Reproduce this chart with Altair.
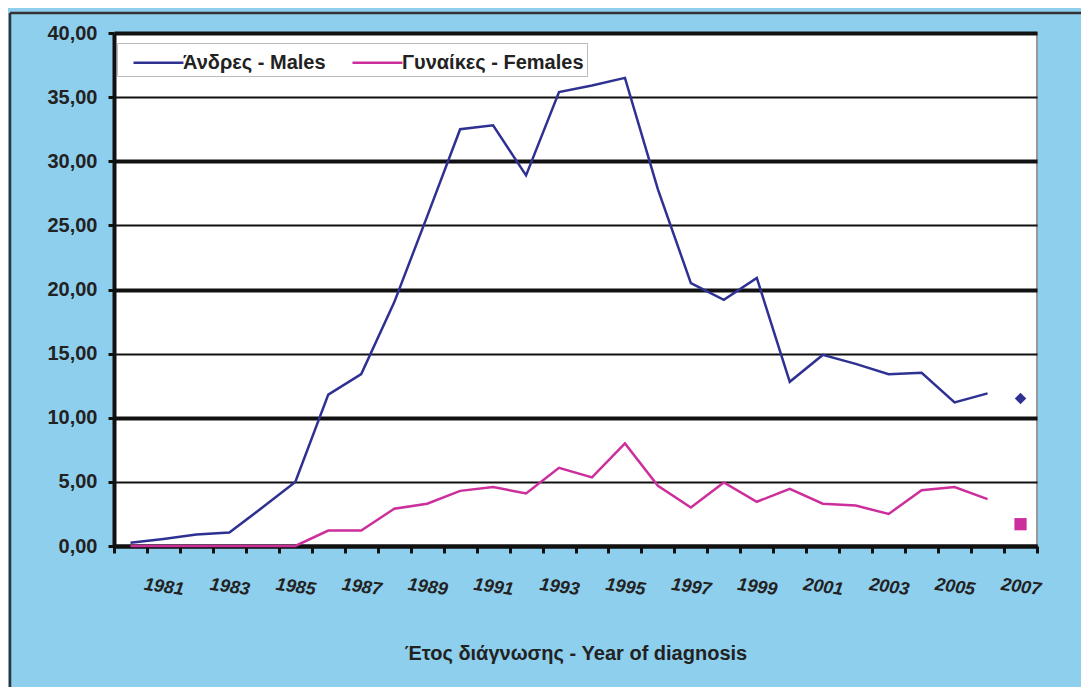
import altair as alt
import pandas as pd

# ---- data ----
years = list(range(1980, 2008))
line_years = list(range(1980, 2007))
males = [0.25, 0.55, 0.9, 1.05, 3.0, 5.0, 11.8, 13.4, 19.0, 25.7,
         32.5, 32.8, 28.9, 35.4, 35.9, 36.5, 27.8, 20.5, 19.2, 20.9,
         12.8, 14.9, 14.2, 13.4, 13.5, 11.2, 11.9]
females = [0.0, 0.0, 0.0, 0.0, 0.0, 0.0, 1.2, 1.2, 2.9, 3.3,
           4.3, 4.6, 4.1, 6.1, 5.35, 8.0, 4.7, 3.0, 4.95, 3.45,
           4.45, 3.3, 3.15, 2.5, 4.35, 4.6, 3.65]
point_year = [2007]
male_2007 = [11.5]
female_2007 = [1.7]
series_names = ["Άνδρες - Males", "Γυναίκες - Females"]
colors = ["#2E3192", "#CC2E9C"]
y_ticks = [0, 5, 10, 15, 20, 25, 30, 35, 40]

FONT = "Liberation Sans"
BG = "#8ECFEE"

df = pd.DataFrame({
    "year": line_years + line_years,
    "value": males + females,
    "series": [series_names[0]] * len(line_years) + [series_names[1]] * len(line_years),
})
pm = pd.DataFrame({"year": point_year, "value": male_2007})
pf = pd.DataFrame({"year": point_year, "value": female_2007})

x_axis = alt.Axis(
    title="Έτος διάγνωσης - Year of diagnosis",
    titleFont=FONT, titleFontSize=20, titleFontWeight="bold", titleColor="#222",
    titleY=107, titleBaseline="middle",
    labelExpr="datum.value % 2 == 1 ? datum.label : ''",
    labelAngle=8, labelFont=FONT, labelFontSize=18, labelFontStyle="italic",
    labelFontWeight="bold", labelColor="#222", labelPadding=34,
    labelBaseline="middle", labelAlign="center",
    tickBand="extent", ticks=True, tickColor="#111", tickWidth=3, tickSize=7,
    domainColor="#111", domainWidth=4, grid=False,
)
y_axis = alt.Axis(
    title=None, values=y_ticks,
    labelExpr="replace(format(datum.value, '.2f'), '.', ',')",
    labelFont=FONT, labelFontSize=20, labelFontWeight="bold", labelColor="#222",
    labelPadding=11,
    tickColor="#111", tickWidth=3, tickSize=6,
    domainColor="#111", domainWidth=4,
    grid=True, gridColor="#111",
    gridWidth={"condition": {"test": "datum.value % 10 == 0", "value": 4}, "value": 2},
)

x = alt.X("year:O", scale=alt.Scale(type="band", domain=years, paddingInner=0, paddingOuter=0),
          bandPosition=0.5, axis=x_axis)
y = alt.Y("value:Q", scale=alt.Scale(domain=[0, 40], nice=False, zero=True), axis=y_axis)

legend = alt.Legend(
    title=None, orient="none", legendX=3, legendY=10, direction="horizontal",
    fillColor="white", strokeColor="#BBBBBB", padding=3,
    symbolType="M-0.2,0H3.13", symbolSize=900, symbolStrokeWidth=2.5,
    labelFont=FONT, labelFontSize=20, labelFontWeight="bold", labelColor="#222",
    labelOffset=30, columnPadding=13, labelLimit=400,
)

lines = alt.Chart(df).mark_line(strokeWidth=2.5).encode(
    x=x, y=y,
    color=alt.Color("series:N", scale=alt.Scale(domain=series_names, range=colors), legend=legend),
)
pt_m = alt.Chart(pm).mark_point(shape="diamond", filled=True, size=130, opacity=1, color=colors[0]).encode(x=x, y=y)
pt_f = alt.Chart(pf).mark_point(shape="square", filled=True, size=150, opacity=1, color=colors[1]).encode(x=x, y=y)

frame_data = pd.DataFrame({"k": [0]})
frame_top = alt.Chart(frame_data).mark_rule(color="#333", strokeWidth=2.5).encode(
    x=alt.value(-104), x2=alt.value(967), y=alt.value(-20))
frame_left = alt.Chart(frame_data).mark_rule(color="#333", strokeWidth=2.5).encode(
    x=alt.value(-104), y=alt.value(-20), y2=alt.value(654))

chart = alt.layer(lines, pt_m, pt_f, frame_top, frame_left).properties(
    width=923, height=513,
    padding={"left": 106, "top": 25, "right": 44, "bottom": 141},
    autosize=alt.AutoSizeParams(type="none"),
    background=BG,
).configure_view(stroke="#999999", strokeWidth=2, fill="white")

chart.save("out.html", embed_options={"renderer": "svg", "actions": False})
